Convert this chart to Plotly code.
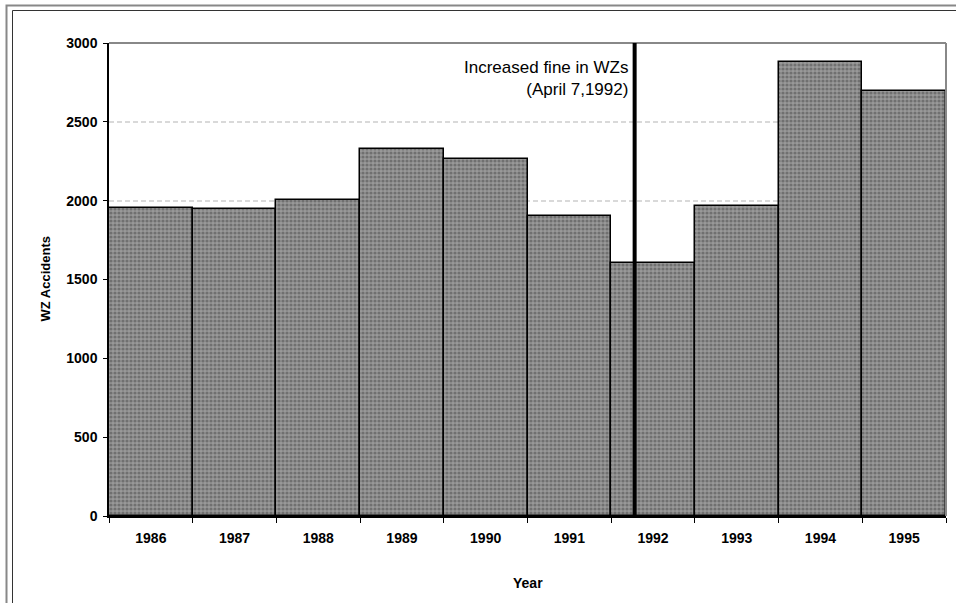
import plotly.graph_objects as go

years = ["1986", "1987", "1988", "1989", "1990", "1991", "1992", "1993", "1994", "1995"]
accidents = [1955, 1950, 2005, 2330, 2267, 1900, 1607, 1968, 2880, 2698]
y_ticks = [0, 500, 1000, 1500, 2000, 2500, 3000]
event_pos = 5.78  # April 7, 1992 on the category axis
event_text = "Increased fine in WZs<br>(April 7,1992)"
x_title = "Year"
y_title = "WZ Accidents"

W, H = 956, 603
L, R, T, B = 109, 10, 43, 87
pw, ph = W - L - R, H - T - B

def px_x(p):
    return (p - L) / pw

def px_y(p):
    return (H - B - p) / ph

fig = go.Figure()
fig.add_trace(go.Bar(
    x=years, y=accidents,
    marker=dict(
        color="#777777",
        line=dict(color="black", width=1.5),
        pattern=dict(shape=".", size=4, solidity=0.5, fgcolor="#474747", bgcolor="#999999"),
    ),
    width=1.0,
    showlegend=False,
    hoverinfo="skip",
))

font = "Liberation Sans, Arial, sans-serif"

fig.update_layout(
    width=W, height=H,
    margin=dict(l=L, r=R, t=T, b=B, autoexpand=False),
    paper_bgcolor="white", plot_bgcolor="white",
    bargap=0,
    font=dict(family=font, color="black"),
    xaxis=dict(
        type="category", range=[-0.5, 9.5], automargin=False,
        showline=True, linecolor="black", linewidth=1.5,
        ticks="outside", ticklen=5, tickwidth=1, tickcolor="black",
        tickson="boundaries", ticklabelstandoff=8,
        tickfont=dict(size=14, family=font, color="black", weight="bold"),
        showgrid=False,
    ),
    yaxis=dict(
        range=[0, 3000], tickvals=y_ticks, automargin=False,
        showline=True, linecolor="black", linewidth=1.5,
        ticks="outside", ticklen=4, tickwidth=1, tickcolor="black",
        ticklabelstandoff=3,
        tickfont=dict(size=14, family=font, color="black", weight="bold"),
        showgrid=True, gridcolor="#d9d9d9", gridwidth=2, griddash="5px,3px",
        zeroline=False,
    ),
)

shapes = []
# plot border (top and right) in grey
shapes.append(dict(type="line", xref="paper", yref="paper", x0=0, x1=1, y0=1, y1=1,
                   line=dict(color="#888888", width=2)))
shapes.append(dict(type="line", xref="paper", yref="paper", x0=1, x1=1, y0=0, y1=1,
                   line=dict(color="#888888", width=2)))
# event line
shapes.append(dict(type="line", xref="x", yref="paper", x0=event_pos, x1=event_pos, y0=0, y1=1,
                   line=dict(color="black", width=4)))
# outer frames (extend beyond canvas on right/bottom)
shapes.append(dict(type="rect", xref="paper", yref="paper",
                   x0=px_x(6.5), x1=px_x(1000), y0=px_y(5.5), y1=px_y(700),
                   line=dict(color="#888888", width=2), fillcolor="rgba(0,0,0,0)"))
shapes.append(dict(type="rect", xref="paper", yref="paper",
                   x0=px_x(12.5), x1=px_x(1000), y0=px_y(10.5), y1=px_y(700),
                   line=dict(color="#333333", width=1), fillcolor="rgba(0,0,0,0)"))
fig.update_layout(shapes=shapes)

fig.add_annotation(
    x=event_pos, y=2776, xref="x", yref="y",
    text=event_text, showarrow=False,
    xanchor="right", yanchor="middle", align="right", xshift=-5,
    font=dict(size=17, family=font, color="black"),
)
fig.add_annotation(
    x=0.5, y=px_y(583), xref="paper", yref="paper",
    text="<b>" + x_title + "</b>", showarrow=False,
    xanchor="center", yanchor="middle",
    font=dict(size=14, family=font, color="black"),
)
fig.add_annotation(
    x=px_x(45), y=0.5, xref="paper", yref="paper",
    text="<b>" + y_title + "</b>", showarrow=False, textangle=-90,
    xanchor="center", yanchor="middle",
    font=dict(size=13, family=font, color="black"),
)

fig.write_html("out.html",
               config={"displayModeBar": False},
               post_script="document.body.style.margin='0';document.body.style.overflow='hidden';")
